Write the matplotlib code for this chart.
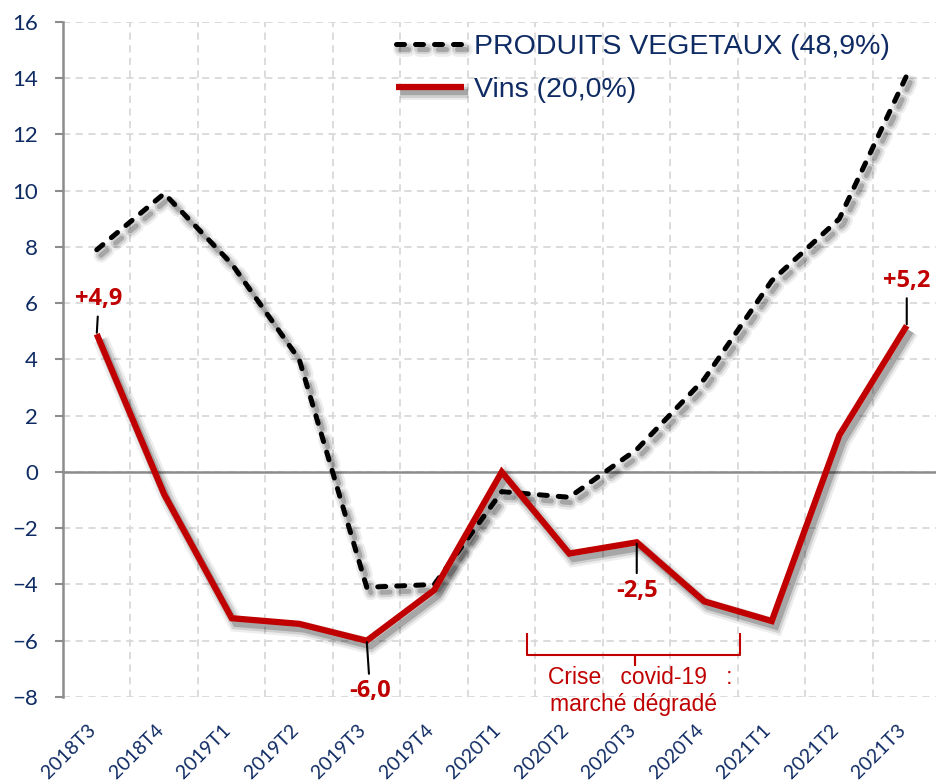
import matplotlib
matplotlib.use('Agg')
import matplotlib.pyplot as plt
import matplotlib.patheffects as pe
from matplotlib.path import Path
from matplotlib.patches import PathPatch

quarters = ['2018T3', '2018T4', '2019T1', '2019T2', '2019T3', '2019T4', '2020T1',
            '2020T2', '2020T3', '2020T4', '2021T1', '2021T2', '2021T3']
vegetaux = [7.9, 9.9, 7.4, 4.0, -4.1, -4.0, -0.7, -0.9, 0.8, 3.3, 6.8, 9.0, 14.1]
vins = [4.9, -0.8, -5.2, -5.4, -6.0, -4.2, 0.0, -2.9, -2.5, -4.6, -5.3, 1.3, 5.2]
label_vegetaux = 'PRODUITS VEGETAUX (48,9%)'
label_vins = 'Vins (20,0%)'

# labels on the wine curve: (index, text, text offset in data units)
callouts = [(0, '+4,9', (0.03, 1.25)), (12, '+5,2', (0.0, 1.6)),
            (4, '-6,0', (0.05, -1.8)), (8, '-2,5', (0.0, -1.72))]

NAVY = '#0f2b63'
RED = '#c00000'


def shadow(lw):
    return [pe.SimpleLineShadow(offset=(3, -4), shadow_color='k', alpha=0.07, linewidth=lw + 7),
            pe.SimpleLineShadow(offset=(3, -4), shadow_color='k', alpha=0.12, linewidth=lw + 3.5),
            pe.SimpleLineShadow(offset=(3, -4), shadow_color='k', alpha=0.2, linewidth=lw),
            pe.Normal()]


fig = plt.figure(figsize=(9.36, 7.84), dpi=100)
ax = fig.add_axes([0.0673, 0.111, 0.9375, 0.861])
x = list(range(len(quarters)))

ax.plot(x, vegetaux, color='black', lw=3.6, dashes=(1.6, 2.2),
        dash_capstyle='round', solid_joinstyle='round', path_effects=shadow(3.6),
        label=label_vegetaux, zorder=4)
ax.plot(x, vins, color=RED, lw=4.5, solid_joinstyle='miter', solid_capstyle='butt',
        path_effects=shadow(4.5), label=label_vins, zorder=5)

ax.set_xlim(-0.5, len(quarters) - 0.5)
ax.set_ylim(-8, 16)
ax.set_yticks(range(-8, 17, 2))
ax.set_xticks(x)
# trailing space nudges the rotated labels down-left like the original
ax.set_xticklabels([q + ' ' for q in quarters], rotation=45, ha='right', va='center',
                   rotation_mode='anchor', fontsize=14, color=NAVY, family='Lato')
ax.set_xticks([i + 0.5 for i in x], minor=True)
ax.tick_params(axis='x', which='both', length=0, pad=20)
ax.tick_params(axis='y', length=6, width=1.5, color='#8c8c8c', pad=12,
               labelsize=16, labelcolor=NAVY)
for t in ax.get_yticklabels():
    t.set_family('Lato')

ax.grid(axis='y', which='major', color='#d9d9d9', ls=(0, (4, 3)), lw=1.3)
ax.grid(axis='x', which='minor', color='#d9d9d9', ls=(0, (4, 3)), lw=1.3)
ax.set_axisbelow(True)
for s in ['top', 'right', 'bottom']:
    ax.spines[s].set_visible(False)
ax.spines['left'].set_color('#8c8c8c')
ax.spines['left'].set_linewidth(1.8)
ax.axhline(0, color='#8c8c8c', lw=1.8, zorder=2)

for i, txt, (dx, dy) in callouts:
    ax.annotate(txt, xy=(i, vins[i]), xytext=(i + dx, vins[i] + dy),
                ha='center', va='center', fontsize=17, fontweight='bold',
                color=RED, family='Open Sans',
                arrowprops=dict(arrowstyle='-', color='black', lw=1.5,
                                shrinkA=2, shrinkB=1), zorder=6)

# curly brace under the covid period
bx0, bx1, bxm = 6.37, 9.53, 7.97
by0, by1, byt = -5.73, -6.51, -6.87
verts = [(bx0, by0), (bx0, by1), (bxm, by1), (bxm, byt), (bxm, by1), (bx1, by1), (bx1, by0)]
ax.add_patch(PathPatch(Path(verts), fill=False, edgecolor=RED, lw=1.5,
                       joinstyle='round', clip_on=False))
ax.text(8.05, -7.3, 'Crise   covid-19   :', ha='center', va='center', fontsize=16.5,
        color=RED, family='Liberation Sans')
ax.text(7.95, -8.25, 'marché dégradé', ha='center', va='center', fontsize=16.5,
        color=RED, family='Liberation Sans', clip_on=False)

leg = ax.legend(loc='upper left', bbox_to_anchor=(0.36, 1.008), frameon=False,
                handlelength=2.4, handletextpad=0.35, labelspacing=0.6,
                borderpad=0.1, prop={'family': 'Liberation Sans', 'size': 20.5})
for t in leg.get_texts():
    t.set_color(NAVY)

fig.savefig('out.png', dpi=100)
